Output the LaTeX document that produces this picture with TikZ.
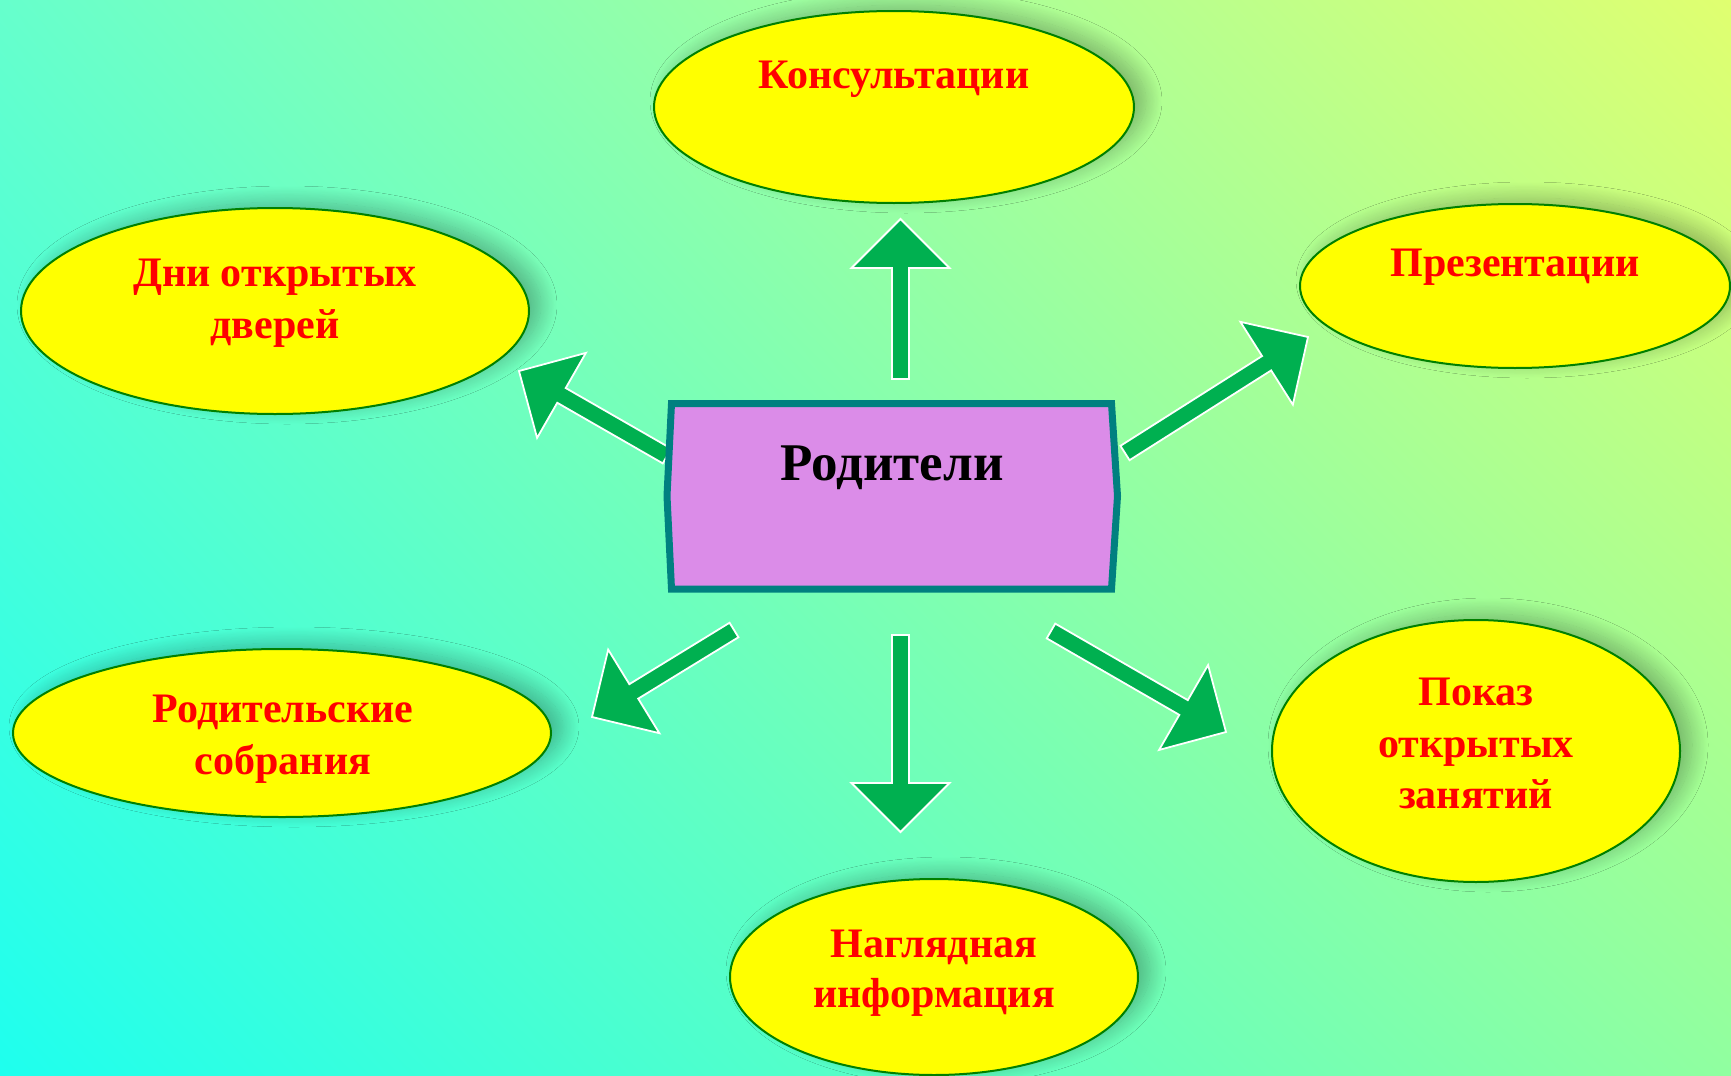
\documentclass[tikz,border=0pt]{standalone}
\usepackage{fontspec}
\setmainfont{Liberation Serif}
\usetikzlibrary{shapes.geometric,calc,shadows.blur,shadings}
\definecolor{bgUL}{RGB}{102,255,204}
\definecolor{bgUR}{RGB}{224,255,112}
\definecolor{bgLL}{RGB}{30,255,238}
\definecolor{bgLR}{RGB}{144,255,160}
\definecolor{arrowgreen}{RGB}{0,176,80}
\definecolor{ellborder}{RGB}{0,128,0}
\definecolor{ellfill}{RGB}{255,255,0}
\definecolor{boxfill}{RGB}{219,140,232}
\definecolor{boxborder}{RGB}{0,128,128}
\newcommand\blockarrow[2]{%
  \coordinate (ba-B) at ($(#2)!24.5pt!(#1)$);
  \draw[blockarrow] ($(#1)!4.25pt!90:(#2)$) -- ($(ba-B)!4.25pt!90:(#2)$) -- ($(ba-B)!24.5pt!90:(#2)$) -- (#2) -- ($(ba-B)!24.5pt!-90:(#2)$) -- ($(ba-B)!4.25pt!-90:(#2)$) -- ($(#1)!4.25pt!-90:(#2)$) -- cycle;}
\begin{document}
\begin{tikzpicture}[x=0.5pt,y=-0.5pt,
  oval/.style={ellipse, draw=ellborder, line width=1pt, fill=ellfill, inner sep=0pt,
    blur shadow={shadow xshift=6pt, shadow yshift=3pt, shadow opacity=28, shadow blur radius=8pt, shadow blur steps=20}},
  lbl/.style={font=\bfseries\fontsize{21pt}{26pt}\selectfont, text=red, anchor=base, inner sep=0pt},
  blockarrow/.style={fill=arrowgreen, draw=white, line width=0.9pt, line join=miter},
]
\useasboundingbox (0,0) rectangle (1731,1076);
\shade[upper left=bgUL, upper right=bgUR, lower left=bgLL, lower right=bgLR] (0,0) rectangle (1731,1076);

% ellipses
\node[oval, minimum width=240pt, minimum height=96pt] (cons) at (894,107) {};
\node[oval, minimum width=254pt, minimum height=103pt] (dni) at (275,311) {};
\node[oval, minimum width=215pt, minimum height=82pt] (prez) at (1515,286) {};
\node[oval, minimum width=269pt, minimum height=84pt] (sobr) at (282,733) {};
\node[oval, minimum width=204pt, minimum height=131pt] (pokaz) at (1476,751) {};
\node[oval, minimum width=204pt, minimum height=98pt] (nagl) at (934,977) {};

% labels
\node[lbl] (t-cons) at (894,88) {Консультации};
\node[lbl] (t-dni1) at (275,286) {Дни открытых};
\node[lbl] (t-dni2) at (275,338) {дверей};
\node[lbl] (t-prez) at (1515,276) {Презентации};
\node[lbl] (t-sobr1) at (283,722) {Родительские};
\node[lbl] (t-sobr2) at (283,774) {собрания};
\node[lbl] (t-pok1) at (1476,705) {Показ};
\node[lbl] (t-pok2) at (1476,757) {открытых};
\node[lbl] (t-pok3) at (1476,808) {занятий};
\node[lbl] (t-nagl1) at (934,957) {Наглядная};
\node[lbl] (t-nagl2) at (934,1007) {информация};

% arrows
\coordinate (a-up-t) at (900.5,379);  \coordinate (a-up-h) at (900.5,219);
\coordinate (a-dn-t) at (900.5,635);  \coordinate (a-dn-h) at (900.5,832);
\coordinate (a-ul-t) at (667,456);    \coordinate (a-ul-h) at (519,371);
\coordinate (a-ur-t) at (1125,453);   \coordinate (a-ur-h) at (1308,337);
\coordinate (a-ll-t) at (734,630);    \coordinate (a-ll-h) at (592,717);
\coordinate (a-lr-t) at (1051,631);   \coordinate (a-lr-h) at (1226,732);
\blockarrow{a-up-t}{a-up-h}
\blockarrow{a-dn-t}{a-dn-h}
\blockarrow{a-ul-t}{a-ul-h}
\blockarrow{a-ur-t}{a-ur-h}
\blockarrow{a-ll-t}{a-ll-h}
\blockarrow{a-lr-t}{a-lr-h}

% central box
\draw[fill=boxfill, draw=boxborder, line width=3.5pt, line join=miter]
  (671.5,403.5) -- (1111.5,403.5) -- (1117.5,496) -- (1111.5,589) -- (671.5,589) -- (667,496) -- cycle;
\node[font=\bfseries\fontsize{26.5pt}{30pt}\selectfont, anchor=base, inner sep=0pt] (rod) at (892,480) {Родители};
\end{tikzpicture}
\end{document}
